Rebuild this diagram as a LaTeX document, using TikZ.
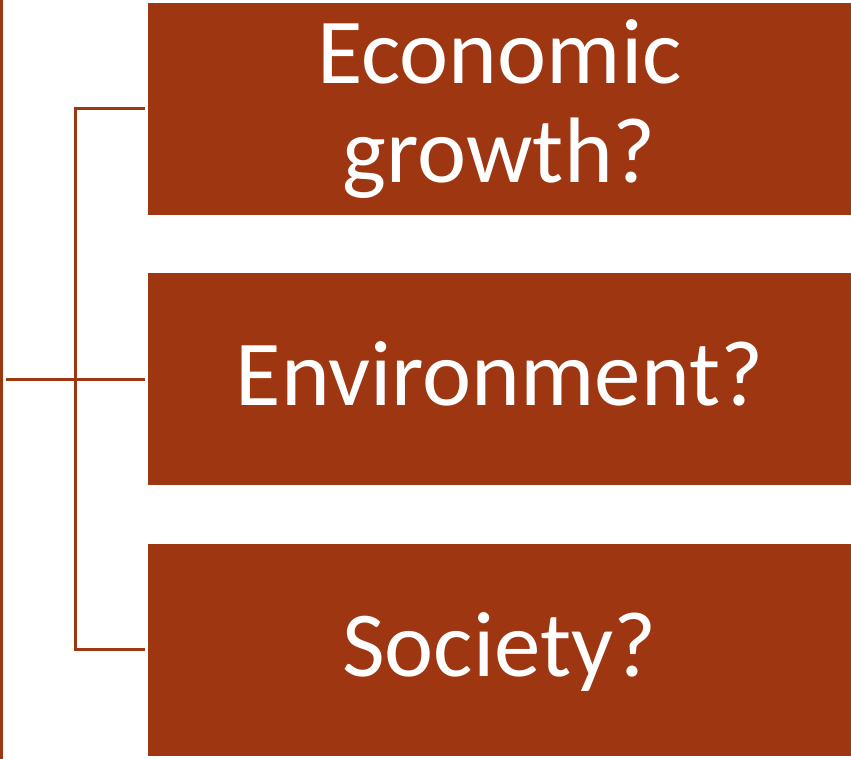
\documentclass[tikz,border=0pt]{standalone}
\usepackage{fontspec}
\setmainfont{Carlito}
\usetikzlibrary{positioning}
\definecolor{rust}{RGB}{158,54,18}
\tikzset{
  topic/.style={fill=rust, text=white, minimum width=703pt, minimum height=212pt,
    inner sep=0pt, align=center, font=\fontsize{93}{99}\selectfont},
  oneline/.style={text height=70pt, text depth=17pt},
  link/.style={draw=rust, line width=3pt}
}

\begin{document}
\begin{tikzpicture}[x=1pt, y=-1pt, node distance=58pt]
      \useasboundingbox (0,0) rectangle (851,759);
      \node[topic] (econ) at (499.5, 109) {Economic\\growth?};
      \node[topic, oneline, below=of econ] (env) {Environment?};
      \node[topic, oneline, below=of env] (soc) {Society?};
      \coordinate (spinetop) at (1.5, 0);
      \coordinate (spinebot) at (1.5, 759);
      \draw[link] (spinetop) -- (spinebot);
      \draw[link] ([xshift=-142pt]env.west) -- ([xshift=-3pt]env.west);
      \draw[link] ([xshift=-3pt]econ.west) -| ([xshift=-72.5pt]soc.west)
        -- ([xshift=-3pt]soc.west);
    \end{tikzpicture}
\end{document}
